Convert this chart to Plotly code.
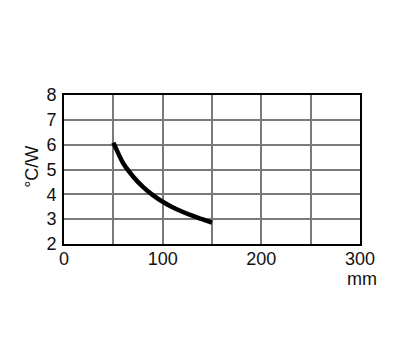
import plotly.graph_objects as go

length_mm = [50, 55, 60, 70, 80, 90, 100, 110, 120, 130, 140, 150]
resistance = [6.08, 5.65, 5.25, 4.72, 4.3, 3.97, 3.7, 3.48, 3.3, 3.14, 3.0, 2.86]
x_ticks = [0, 100, 200, 300]
y_ticks = [2, 3, 4, 5, 6, 7, 8]

fig = go.Figure()
fig.add_trace(go.Scatter(x=length_mm, y=resistance, mode="lines",
                         line=dict(color="black", width=4.5, shape="spline"),
                         showlegend=False))

font = dict(family="Liberation Sans, Arial, sans-serif", size=18, color="#111")
fig.update_layout(
    width=400, height=360,
    margin=dict(l=56, r=48, t=87, b=124, autoexpand=False),
    paper_bgcolor="white", plot_bgcolor="white",
    font=font,
    xaxis=dict(range=[0, 300], tickvals=x_ticks, showgrid=False, automargin=False,
               showline=True, linecolor="black", linewidth=2, mirror=True,
               zeroline=False, ticks="", ticklabelstandoff=-3, fixedrange=True),
    yaxis=dict(range=[2, 8], tickvals=y_ticks, showgrid=True, gridcolor="#7a7a7a",
               gridwidth=2, showline=True, linecolor="black", linewidth=2, mirror=True,
               automargin=False, zeroline=False, ticks="", ticklabelstandoff=2,
               fixedrange=True),
)
fig.update_xaxes(minor=dict(tickvals=[50, 100, 150, 200, 250], showgrid=True,
                             gridcolor="#7a7a7a", gridwidth=2))
fig.add_annotation(text="mm", xref="paper", yref="paper", x=1.007, y=-0.235,
                   showarrow=False, font=font, xanchor="center", yanchor="middle")
fig.add_annotation(text="°C/W", xref="paper", yref="paper", x=-0.108, y=0.518,
                   textangle=-90, showarrow=False, font=font,
                   xanchor="center", yanchor="middle")
fig.write_html("out.html")
